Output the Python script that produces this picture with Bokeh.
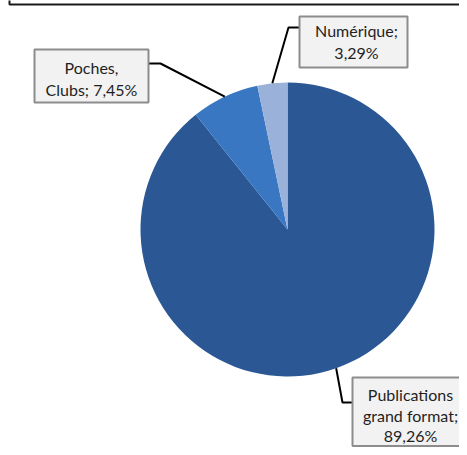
import math
from bokeh.plotting import figure
from bokeh.models import Range1d
from bokeh.core.properties import value
from bokeh.embed import file_html
from bokeh.resources import INLINE

# ---- data ----
categories = ["Publications grand format", "Poches, Clubs", "Numérique"]
shares = [89.26, 7.45, 3.29]
label_lines = [["Publications", "grand format;", "89,26%"],
               ["Poches,", "Clubs; 7,45%"],
               ["Numérique;", "3,29%"]]
colors = ["#2B5894", "#3A77C2", "#9AB1DA"]

# ---- layout (pixel positions inside the figure, y downwards) ----
W, H = 459, 447
CX, CY, R = 287, 229, 147
FONT = "Lato"
elbows = [[(342, 402), (352, 402)], [(160, 63), (148, 63)], [(288, 27), (299, 27)]]
boxes = [(352, 480, 377, 445.5), (34, 148, 49, 102), (299, 407, 16, 67)]   # l, r, t, b
text_x = [410, 91, 356]
text_y = [[394, 415, 435], [67, 89], [30, 52]]


def Y(py):
    return H - py


p = figure(width=W, height=H, output_backend="svg", toolbar_location=None,
           x_range=Range1d(0, W), y_range=Range1d(0, H), min_border=0)
p.axis.visible = False
p.grid.visible = False
p.outline_line_color = None
p.background_fill_color = "white"

# top frame remnant
p.line([9, 9, W + 5], [Y(-5), Y(4), Y(4)], line_color="#1A1A1A", line_width=2)

total = sum(shares)
start = math.pi / 2
starts, ends, mids = [], [], []
for s in shares:
    a = 2 * math.pi * s / total
    starts.append(start)
    ends.append(start - a)
    mids.append(start - a / 2)
    start -= a

p.wedge(x=[CX] * 3, y=[Y(CY)] * 3, radius=R, start_angle=starts, end_angle=ends,
        direction="clock", fill_color=colors, line_color=None)

for i in range(3):
    ex = CX + R * math.cos(mids[i])
    ey = Y(CY) + R * math.sin(mids[i])
    xs = [ex] + [e[0] for e in elbows[i]]
    ys = [ey] + [Y(e[1]) for e in elbows[i]]
    p.line(xs, ys, line_color="black", line_width=2)
    l, r, t, b = boxes[i]
    p.quad(left=l, right=r, top=Y(t), bottom=Y(b), fill_color="#F2F2F2",
           line_color="#8C8C8C", line_width=2)
    p.text(x=[text_x[i]] * len(label_lines[i]), y=[Y(v) for v in text_y[i]],
           text=label_lines[i], text_align="center", text_baseline="middle",
           text_font=value(FONT), text_font_size="16px", text_color="#1F1F1F")

open("out.html", "w").write(file_html(p, INLINE))
